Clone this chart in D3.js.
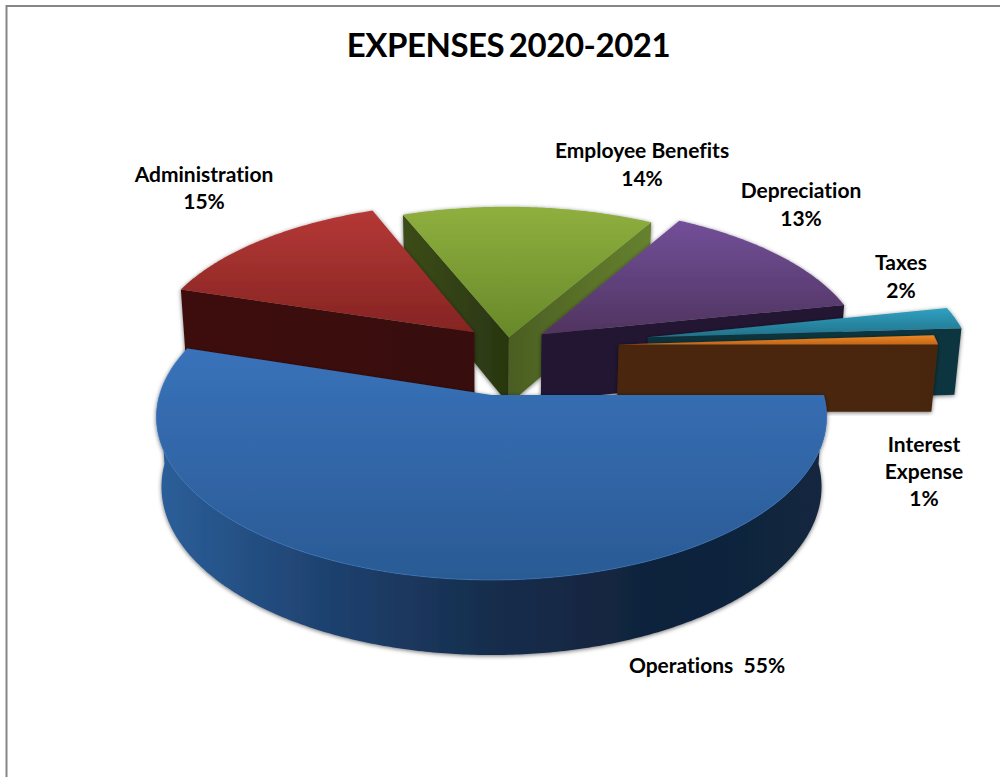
<!DOCTYPE html>
<html>
<head>
<meta charset="utf-8">
<script src="https://cdnjs.cloudflare.com/ajax/libs/d3/7.8.5/d3.min.js"></script>
<style>
html,body{margin:0;padding:0;background:#fff;overflow:hidden}
text{font-family:Lato,"Open Sans",sans-serif;font-weight:700;fill:#000;font-variant-ligatures:none}
</style>
</head>
<body>
<script>
// ---- data ----
const titleText = "EXPENSES 2020-2021";
const categories = ["Operations","Administration","Employee Benefits","Depreciation","Taxes","Interest Expense"];
const sliceValues = [54.9,14.2,14.2,13.4,2.3,1.0];
const labelPercents = [55,15,14,13,2,1];

// ---- style & layout ----
const topColors = [["#3972ba","#2a5a94"],["#b53835","#852423"],["#8fb03e","#678829"],["#734f9a","#50345f"],["#2fa2c2","#227088"],["#ee8823","#c4671a"]];
const faceStartColors = [null,["#3d1010","#380e0e"],["#3c4c1a","#293610"],null,null,null];
const faceEndColors = [null,null,["#4b5e22","#66822f"],["#211531","#231733"],["#0f333d","#10353f"],["#4a270c","#47250b"]];
const wallColors = ["#2c5f9a","#1e4270","#172d4c","#10233b","#12263f"];
const explode = [[0,0],[-.055,-.414],[.055,-.379],[.159,-.4],[.495,-.379],[.40,-.33]];
const sliceRadius = [1,1.02,1.02,1.012,1.007,1.005];
const labelLayout = [
  {x:707,ys:[672.5],oneLine:true},
  {x:204,ys:[181.5,208.5]},
  {x:642,ys:[157.5,185.5]},
  {x:801,ys:[197.5,225.5]},
  {x:901,ys:[269.5,297.5]},
  {x:924,ys:[451.5,478.5,505.5]}
];
const W=1000,H=777,cx=491.5,cy=395,R=332,Ry=160,persp=.135,depth=69,zPersp=.081,bottomShrink=.985;

const svg=d3.select("body").append("svg").attr("width",W).attr("height",H).style("display","block");
const defs=svg.append("defs");

function gradient(id,stops,horizontal){
  const g=defs.append("linearGradient").attr("id",id)
    .attr("x1",0).attr("y1",0).attr("x2",horizontal?1:0).attr("y2",horizontal?0:1);
  stops.forEach((c,i)=>g.append("stop").attr("offset",i/(stops.length-1)).attr("stop-color",c));
  return `url(#${id})`;
}
const shadow=defs.append("filter").attr("id","shadow").attr("x","-5%").attr("y","-5%").attr("width","110%").attr("height","110%");
shadow.append("feDropShadow").attr("dx",0).attr("dy",1).attr("stdDeviation",2).attr("flood-color","#000").attr("flood-opacity",.55);

// frame (top and left only are visible)
svg.append("path").attr("d",d3.line()([[6.5,H],[6.5,6],[W,6]])).attr("fill","none").attr("stroke","#868686").attr("stroke-width",2);

// projection of a point on the unit disk
const project=(u,v)=>{const s=1/(1-persp*v);return [cx+R*u*s,cy+Ry*v*s];};
const lower=(u,v)=>{const p=project(u,v);return [cx+(p[0]-cx)*bottomShrink,p[1]+depth/(1-zPersp*v)];};
const line=d3.line();

const pie=d3.pie().sort(null).startAngle(Math.PI/2).endAngle(Math.PI*2.5);
const arcs=pie(sliceValues).map((d,i)=>({i,a:d.startAngle-Math.PI/2,b:d.endAngle-Math.PI/2,off:explode[i],r:sliceRadius[i]}));

function disk(d,t){return [d.off[0]+d.r*Math.cos(t),d.off[1]+d.r*Math.sin(t)];}
function samples(a,b){const n=Math.max(2,Math.ceil((b-a)/.01));return d3.range(n+1).map(k=>a+(b-a)*k/n);}

function drawSlice(d){
  const g=svg.append("g").attr("filter","url(#shadow)");
  const o=d.off;
  // radial faces
  const face=(t,cols,name)=>{
    if(!cols) return;
    const e=disk(d,t);
    g.append("path")
      .attr("d",line([project(o[0],o[1]),project(e[0],e[1]),lower(e[0],e[1]),lower(o[0],o[1])])+"Z")
      .attr("fill",gradient(`face-${name}-${d.i}`,cols,true));
  };
  face(d.a,faceStartColors[d.i],"s");
  face(d.b,faceEndColors[d.i],"e");
  // outer wall, front half only
  const wa=Math.max(d.a,0),wb=Math.min(d.b,Math.PI);
  if(wb>wa){
    const ts=samples(wa,wb);
    const pts=ts.map(t=>project(...disk(d,t))).concat(ts.slice().reverse().map(t=>lower(...disk(d,t))));
    g.append("path").attr("d",line(pts)+"Z")
      .attr("fill",gradient(`wall-${d.i}`,wallColors,true));
  }
  // top surface
  const ts=samples(d.a,d.b);
  const topPts=[project(o[0],o[1])].concat(ts.map(t=>project(...disk(d,t))));
  g.append("path").attr("d",line(topPts)+"Z").attr("fill",gradient(`top-${d.i}`,topColors[d.i],false));
  if(d.i===0){
    g.append("path").attr("d",line(ts.map(t=>project(...disk(d,t)))))
      .attr("fill","none").attr("stroke","#3f7dc6").attr("stroke-width",1).attr("stroke-opacity",.6);
  }
}
// paint back slices first, the front slice last
[2,1,3,4,5,0].forEach(i=>drawSlice(arcs[i]));

// title
svg.append("text").attr("x",508.5).attr("y",57).attr("text-anchor","middle")
  .attr("font-size",33).style("word-spacing","-3px").style("letter-spacing","-.45px").text(titleText);

// labels
categories.forEach((c,i)=>{
  const L=labelLayout[i];
  const pct=labelPercents[i];
  const words=c==="Interest Expense"?c.split(" "):[c];
  const lines=L.oneLine?[`${c}  ${pct}%`]:words.concat(`${pct}%`);
  const t=svg.append("text").attr("text-anchor","middle").attr("font-size",21).style("white-space","pre");
  lines.forEach((s,k)=>t.append("tspan").attr("x",L.x).attr("y",L.ys[k]).text(s));
});
</script>
</body>
</html>
